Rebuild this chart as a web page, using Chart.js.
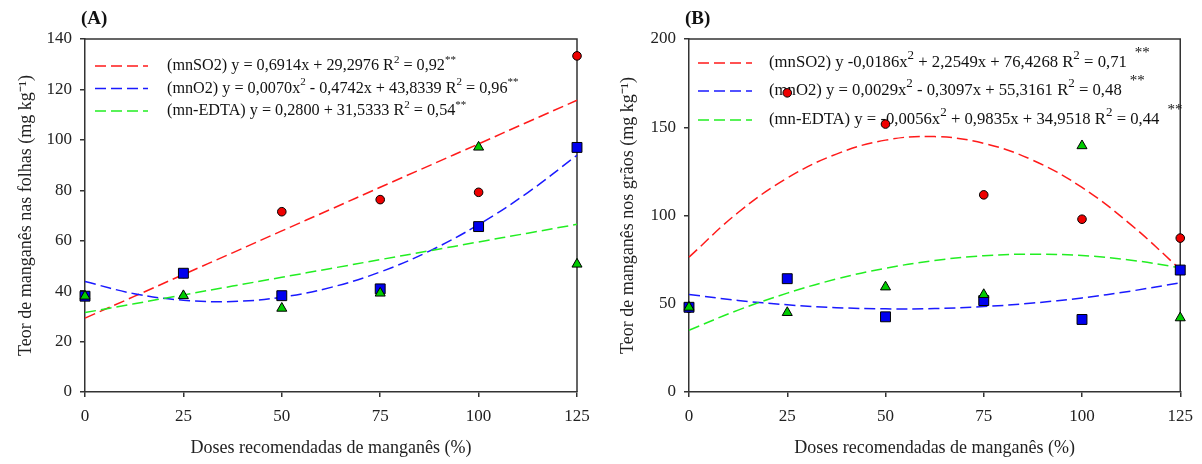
<!DOCTYPE html>
<html>
<head>
<meta charset="utf-8">
<script src="https://cdn.jsdelivr.net/npm/chart.js@4.4.0/dist/chart.umd.min.js"></script>
<style>
  html, body { margin: 0; padding: 0; background: #fff; }
  #wrap { position: relative; width: 1202px; height: 464px; }
  canvas { position: absolute; top: 0; }
</style>
</head>
<body>
<div id="wrap">
  <canvas id="chartA" width="600" height="464" style="left:0"></canvas>
  <canvas id="chartB" width="602" height="464" style="left:600px"></canvas>
</div>
<script>
// doses of Mn (% of recommended)
const doses = [0, 25, 50, 75, 100, 125];
const xTicks = [0, 25, 50, 75, 100, 125];

// (A) leaves
const folhasMnSO2 = [38, 47, 71.5, 76.3, 79.2, 133.3];
const folhasMnO2 = [38, 47.1, 38.2, 40.9, 65.6, 97];
const folhasEDTA = [38, 38.2, 33.2, 39.2, 97.1, 50.7];
const yTicksFolhas = [0, 20, 40, 60, 80, 100, 120, 140];

// (B) grains
const graosMnSO2 = [47.5, 169.5, 151.8, 111.7, 97.9, 87.2];
const graosMnO2 = [48, 64.2, 42.6, 51.8, 41.1, 69.1];
const graosEDTA = [48, 45, 59.5, 55.2, 139.5, 42];
const yTicksGraos = [0, 50, 100, 150, 200];

// fitted curves
const curveDoses = [0, 12.5, 25, 37.5, 50, 62.5, 75, 87.5, 100, 112.5, 125];
const folhasFitMnSO2 = [29.3, 37.9, 46.6, 55.2, 63.9, 72.5, 81.2, 89.8, 98.4, 107.1, 115.7];
const folhasFitMnO2 = [43.8, 39.0, 36.4, 35.9, 37.6, 41.5, 47.6, 55.9, 66.4, 79.1, 93.9];
const folhasFitEDTA = [31.5, 35.0, 38.5, 42.0, 45.5, 49.0, 52.5, 56.0, 59.5, 63.0, 66.5];
const graosFitMnSO2 = [76.4, 101.7, 121.2, 134.8, 142.7, 144.7, 140.9, 131.3, 115.9, 94.7, 69.5];
const graosFitMnO2 = [55.3, 51.9, 49.4, 47.8, 47.1, 47.3, 48.4, 50.4, 53.3, 57.2, 61.9];
const graosFitEDTA = [35.0, 46.4, 56.0, 64.0, 70.1, 74.5, 77.2, 78.1, 77.3, 74.7, 70.4];

// legend rows, '^' marks a superscript piece
const legendFolhas = [
  ['(mnSO2) y = 0,6914x + 29,2976 R', '^2', ' = 0,92', '^**'],
  ['(mnO2) y = 0,0070x', '^2', ' - 0,4742x + 43,8339 R', '^2', ' = 0,96', '^**'],
  ['(mn-EDTA) y = 0,2800 + 31,5333 R', '^2', ' = 0,54', '^**']
];
const legendGraos = [
  ['(mnSO2) y -0,0186x', '^2', ' + 2,2549x + 76,4268 R', '^2', ' = 0,71', '*'],
  ['(mnO2) y = 0,0029x', '^2', ' - 0,3097x + 55,3161 R', '^2', ' = 0,48', '*'],
  ['(mn-EDTA) y = -0,0056x', '^2', ' + 0,9835x + 34,9518 R', '^2', ' = 0,44', '*']
];

const FONT = "'Liberation Serif', 'Times New Roman', serif";
const AXIS = '#333';
const RED = '#ff1a1a', BLUE = '#1a1aff', GREEN = '#22ee22';

function xy(xs, ys) {
  return xs.map((x, i) => ({ x: x, y: ys[i] }));
}

// '^' = superscript, '*' = the raised significance stars after a small gap
function drawRich(ctx, parts, x, y, lg) {
  let cx = x;
  parts.forEach(p => {
    if (p === '*') {
      cx += lg.starGap;
      ctx.font = lg.starSize + 'px ' + FONT;
      ctx.fillText('**', cx, y - lg.starRise);
      cx += ctx.measureText('**').width;
    } else if (p[0] === '^') {
      ctx.font = lg.supSize + 'px ' + FONT;
      ctx.fillText(p.slice(1), cx, y - lg.rise);
      cx += ctx.measureText(p.slice(1)).width;
    } else {
      ctx.font = lg.size + 'px ' + FONT;
      ctx.fillText(p, cx, y);
      cx += ctx.measureText(p).width;
    }
  });
}

const panelPlugin = {
  id: 'panel',
  beforeDatasetsDraw(chart, args, opts) {
    const ctx = chart.ctx;
    const a = chart.chartArea;
    ctx.save();
    // box around the plot
    ctx.strokeStyle = AXIS;
    ctx.lineWidth = 1.5;
    ctx.beginPath();
    ctx.moveTo(a.left, a.top);
    ctx.lineTo(a.right, a.top);
    ctx.lineTo(a.right, a.bottom);
    ctx.stroke();
    // legend inside the plot
    const lg = opts.legend;
    const colors = [RED, BLUE, GREEN];
    lg.rows.forEach((row, i) => {
      const y = lg.y[i];
      ctx.strokeStyle = colors[i];
      ctx.lineWidth = 1.5;
      ctx.setLineDash([11, 5]);
      ctx.beginPath();
      ctx.moveTo(lg.x0, y);
      ctx.lineTo(lg.x1, y);
      ctx.stroke();
      ctx.setLineDash([]);
      ctx.fillStyle = '#111';
      ctx.textBaseline = 'middle';
      ctx.textAlign = 'left';
      drawRich(ctx, row, lg.tx, y, lg);
    });
    ctx.restore();
  },
  afterDraw(chart, args, opts) {
    const ctx = chart.ctx;
    ctx.save();
    ctx.fillStyle = '#111';
    ctx.font = 'bold 19px ' + FONT;
    ctx.textBaseline = 'middle';
    ctx.textAlign = 'left';
    ctx.fillText(opts.label, opts.labelX, 19);
    ctx.restore();
  }
};

function makeChart(id, p) {
  const pointBase = { showLine: false, clip: false, borderColor: '#000', borderWidth: 1 };
  const lineBase = { showLine: true, clip: false, pointRadius: 0, borderWidth: 1.5, borderDash: [11, 5], tension: 0.4, fill: false };
  return new Chart(document.getElementById(id), {
    type: 'scatter',
    data: {
      datasets: [
        Object.assign({ label: 'mn-EDTA', data: xy(doses, p.edta), pointStyle: 'triangle', pointRadius: 5.8, backgroundColor: '#00cc00' }, pointBase),
        Object.assign({ label: 'mnO2', data: xy(doses, p.o2), pointStyle: 'rect', pointRadius: 7, backgroundColor: '#0000ee' }, pointBase),
        Object.assign({ label: 'mnSO2', data: xy(doses, p.so2), pointStyle: 'circle', pointRadius: 4.3, backgroundColor: '#ee0000' }, pointBase),
        Object.assign({ label: 'fit mn-EDTA', data: xy(curveDoses, p.fitEdta), borderColor: GREEN }, lineBase),
        Object.assign({ label: 'fit mnO2', data: xy(curveDoses, p.fitO2), borderColor: BLUE }, lineBase),
        Object.assign({ label: 'fit mnSO2', data: xy(curveDoses, p.fitSo2), borderColor: RED }, lineBase)
      ]
    },
    options: {
      responsive: false,
      animation: false,
      layout: { padding: { top: 39, right: p.padRight, bottom: 0, left: 0 } },
      plugins: {
        legend: { display: false },
        tooltip: { enabled: false },
        panel: { label: p.label, labelX: p.labelX, legend: p.legend }
      },
      scales: {
        x: {
          type: 'linear', min: 0, max: 125,
          afterBuildTicks: s => { s.ticks = xTicks.map(v => ({ value: v })); },
          afterFit: s => { s.height = 72; },
          grid: { drawOnChartArea: false, drawTicks: true, tickLength: 5, color: AXIS, lineWidth: 1.5 },
          border: { display: true, color: AXIS, width: 1.5 },
          ticks: { color: '#222', font: { family: FONT, size: 17 }, padding: 9, maxRotation: 0, autoSkip: false },
          title: { display: true, text: 'Doses recomendadas de manganês (%)', color: '#222', font: { family: FONT, size: 18 }, padding: { top: 0, bottom: 5 } }
        },
        y: {
          type: 'linear', min: 0, max: p.yMax,
          afterBuildTicks: s => { s.ticks = p.yTicks.map(v => ({ value: v })); },
          afterFit: s => { s.width = p.yWidth; },
          grid: { drawOnChartArea: false, drawTicks: true, tickLength: 5, color: AXIS, lineWidth: 1.5 },
          border: { display: true, color: AXIS, width: 1.5 },
          ticks: { color: '#222', font: { family: FONT, size: 17 }, padding: 8 },
          title: { display: true, text: p.yTitle, color: '#222', font: { family: FONT, size: 18 }, padding: { top: p.titlePad, bottom: 0 } }
        }
      }
    },
    plugins: [panelPlugin]
  });
}

makeChart('chartA', {
  label: '(A)', labelX: 81,
  so2: folhasMnSO2, o2: folhasMnO2, edta: folhasEDTA,
  fitSo2: folhasFitMnSO2, fitO2: folhasFitMnO2, fitEdta: folhasFitEDTA,
  yMax: 140, yTicks: yTicksFolhas, yWidth: 85, padRight: 23, titlePad: 15,
  yTitle: 'Teor de manganês nas folhas (mg kg⁻¹)',
  legend: { rows: legendFolhas, x0: 95, x1: 148, tx: 167, y: [66, 88.5, 111], size: 16.2, supSize: 11, rise: 6 }
});

makeChart('chartB', {
  label: '(B)', labelX: 85,
  so2: graosMnSO2, o2: graosMnO2, edta: graosEDTA,
  fitSo2: graosFitMnSO2, fitO2: graosFitMnO2, fitEdta: graosFitEDTA,
  yMax: 200, yTicks: yTicksGraos, yWidth: 89, padRight: 21, titlePad: 17,
  yTitle: 'Teor de manganês nos grãos (mg kg⁻¹)',
  legend: { rows: legendGraos, x0: 98, x1: 152, tx: 169, y: [63, 91, 120], size: 16.7, supSize: 13, rise: 7, starGap: 8, starSize: 15, starRise: 10 }
});
</script>
</body>
</html>
